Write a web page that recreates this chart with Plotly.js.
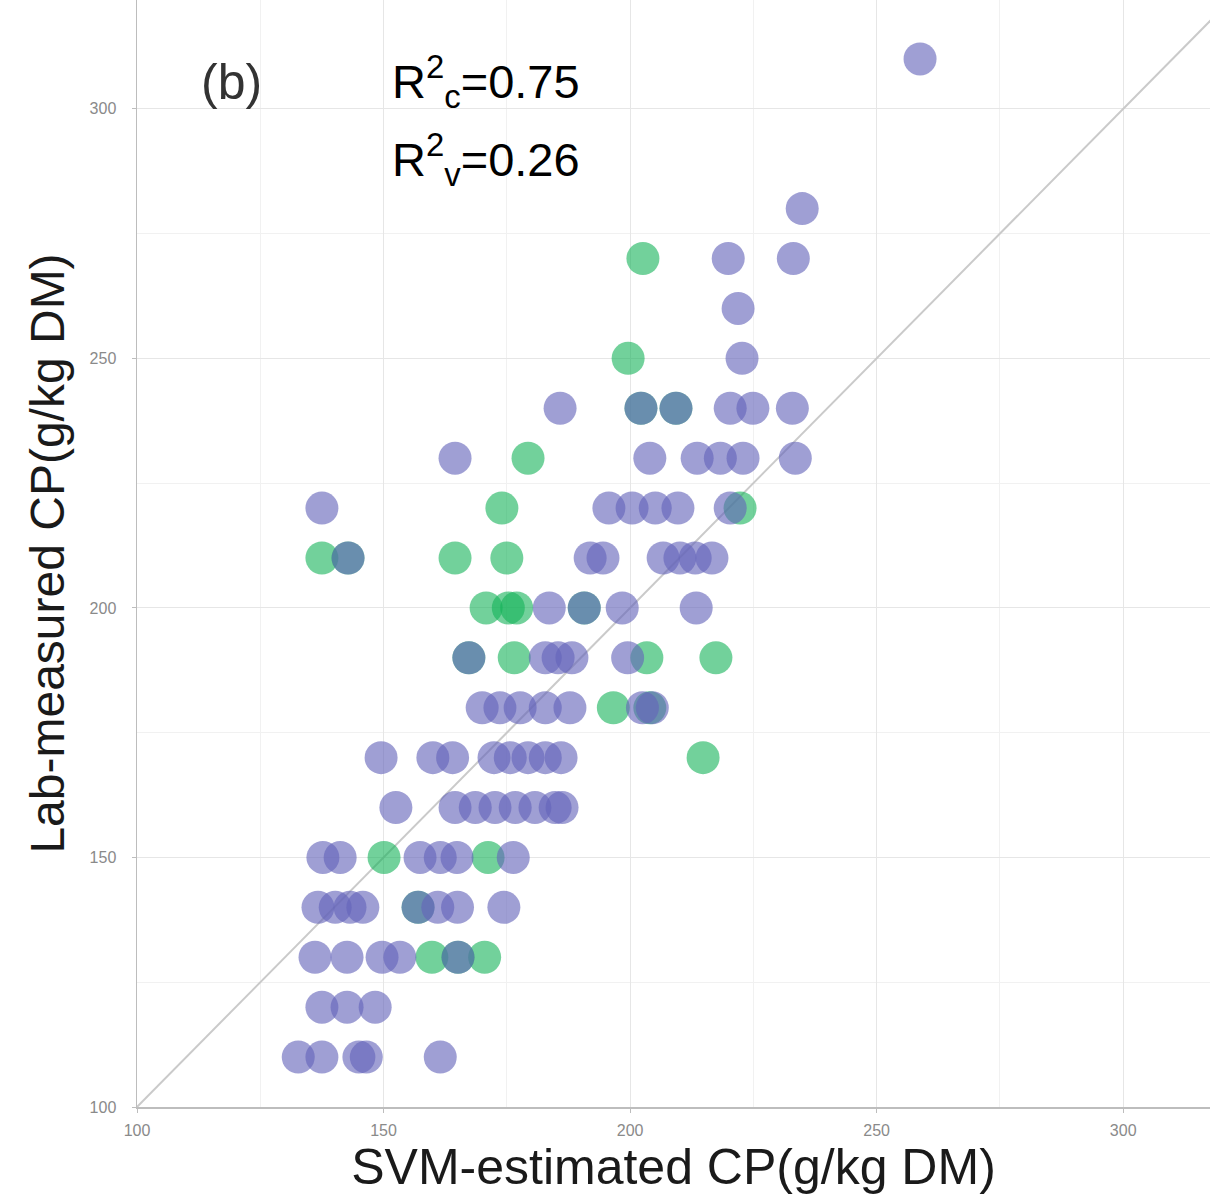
<!DOCTYPE html>
<html>
<head>
<meta charset="utf-8">
<script src="https://cdn.plot.ly/plotly-3.0.1.min.js"></script>
<style>html,body{margin:0;padding:0;background:#fff;}#chart{width:1210px;height:1204px;}</style>
</head>
<body>
<div id="chart"></div>
<script>
// Calibration set (purple)
const calX = [258.8, 234.9, 219.9, 233.1, 221.9, 222.7,
  185.8, 202.2, 209.3, 220.3, 224.9, 232.9,
  164.5, 204, 213.6, 218.3, 222.9, 233.5,
  137.5, 195.7, 200.4, 205.1, 209.7, 220.3,
  142.8, 191.9, 194.5, 206.7, 210.1, 213.2, 216.6,
  183.6, 190.7, 198.4, 213.4,
  167.3, 182.8, 185.4, 188.2, 199.5,
  170, 173.6, 177.7, 182.8, 187.8, 202.5, 204.5,
  149.5, 160, 164, 172.4, 175.7, 179.3, 182.8, 186,
  152.5, 164.5, 168.6, 172.6, 176.7, 180.7, 184.8, 186.2,
  137.7, 141.2, 157.4, 161.5, 164.9, 176.3,
  136.7, 140.2, 143.2, 145.8, 157, 161, 165, 174.4,
  136.1, 142.6, 149.7, 153.3, 165.1,
  137.5, 142.6, 148.3,
  132.7, 137.5, 145, 146.5, 161.5];
const calY = [310, 280, 270, 270, 260, 250,
  240, 240, 240, 240, 240, 240,
  230, 230, 230, 230, 230, 230,
  220, 220, 220, 220, 220, 220,
  210, 210, 210, 210, 210, 210, 210,
  200, 200, 200, 200,
  190, 190, 190, 190, 190,
  180, 180, 180, 180, 180, 180, 180,
  170, 170, 170, 170, 170, 170, 170, 170,
  160, 160, 160, 160, 160, 160, 160, 160,
  150, 150, 150, 150, 150, 150,
  140, 140, 140, 140, 140, 140, 140, 140,
  130, 130, 130, 130, 130,
  120, 120, 120,
  110, 110, 110, 110, 110];
// Validation set (green)
const valX = [202.6, 199.6, 202.2, 209.3, 179.3, 174, 222.3,
  137.5, 142.8, 164.5, 175,
  170.8, 175.3, 177, 190.7,
  167.3, 176.5, 203.4, 217.4,
  196.6, 204,
  214.8,
  150.1, 171.2,
  157,
  159.8, 165.1, 170.5];
const valY = [270, 250, 240, 240, 230, 220, 220,
  210, 210, 210, 210,
  200, 200, 200, 200,
  190, 190, 190, 190,
  180, 180,
  170,
  150, 150,
  140,
  130, 130, 130];
// 1:1 reference line
const lineX = [100, 330];
const lineY = [100, 330];

const tickVals = [100, 150, 200, 250, 300];
const tickText = ['100', '150', '200', '250', '300'];

const FONT = 'Liberation Sans, Arial, sans-serif';

const traces = [
  {x: lineX, y: lineY, mode: 'lines', type: 'scatter',
   line: {color: '#cacaca', width: 2}, hoverinfo: 'skip', showlegend: false},
  {x: valX, y: valY, mode: 'markers', type: 'scatter', name: 'Validation',
   marker: {size: 33, color: 'rgba(20,178,88,0.6)', line: {width: 0}}, showlegend: false},
  {x: calX, y: calY, mode: 'markers', type: 'scatter', name: 'Calibration',
   marker: {size: 33, color: 'rgba(100,100,186,0.62)', line: {width: 0}}, showlegend: false}
];

const axisCommon = {
  showline: true, linecolor: '#bdbdbd', linewidth: 1.5,
  ticks: 'outside', ticklen: 4, tickcolor: '#bdbdbd', tickwidth: 1,
  tickvals: tickVals, ticktext: tickText,
  tickfont: {family: FONT, size: 16, color: '#8a8a8a'},
  showgrid: true, gridcolor: '#e6e6e6', gridwidth: 1,
  minor: {tickmode: 'linear', tick0: 125, dtick: 50, showgrid: true, gridcolor: '#f1f1f1', gridwidth: 1, ticks: ''},
  zeroline: false, automargin: false
};

const layout = {
  width: 1210, height: 1204,
  margin: {l: 137, r: 0, t: 0, b: 97},
  paper_bgcolor: '#ffffff', plot_bgcolor: '#ffffff',
  showlegend: false,
  xaxis: Object.assign({}, axisCommon, {
    range: [100, 317.6],
    ticklabelstandoff: 4,
    title: {text: 'SVM-estimated CP(g/kg DM)', standoff: 8,
      font: {family: FONT, size: 50, color: '#1a1a1a'}}
  }),
  yaxis: Object.assign({}, axisCommon, {
    range: [100, 321.8],
    ticklabelstandoff: 12,
    title: {text: 'Lab-measured CP(g/kg DM)', standoff: 10,
      font: {family: FONT, size: 48, color: '#1a1a1a'}}
  }),
  annotations: [
    {xref: 'paper', yref: 'paper', x: 0.0885, y: 0.926, xanchor: 'center', yanchor: 'middle',
     text: '(b)', showarrow: false,
     font: {family: FONT, size: 50, color: '#333333'}},
    {xref: 'paper', yref: 'paper', x: 0.236, y: 0.926, xanchor: 'left', yanchor: 'middle',
     text: 'R<sup>2</sup><sub>c</sub>=0.75', showarrow: false,
     font: {family: FONT, size: 47, color: '#000000'}},
    {xref: 'paper', yref: 'paper', x: 0.236, y: 0.856, xanchor: 'left', yanchor: 'middle',
     text: 'R<sup>2</sup><sub>v</sub>=0.26', showarrow: false,
     font: {family: FONT, size: 47, color: '#000000'}}
  ]
};

Plotly.newPlot('chart', traces, layout, {displayModeBar: false, staticPlot: true});
</script>
</body>
</html>
